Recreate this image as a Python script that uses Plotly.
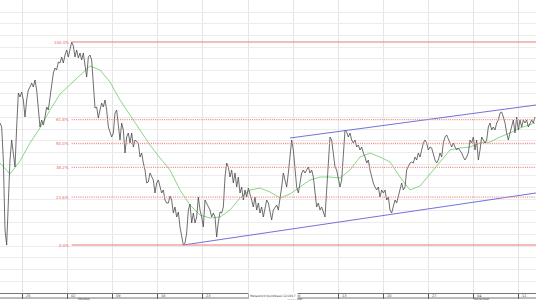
import plotly.graph_objects as go

# ---------------- data ----------------
price = [177,173,140,70,55,107,140,160,147,133,173,207,203,208,200,183,200,210,213,217,
         213,220,210,187,173,180,175,183,193,190,203,213,227,232,230,238,237,243,237,245,
         250,243,250,258,254,243,250,242,247,240,247,233,223,243,245,240,220,192,193,182,
         190,197,193,200,190,173,168,163,167,187,190,173,160,177,170,147,163,167,157,167,
         153,160,158,157,143,147,137,130,117,118,127,123,120,107,117,120,113,107,110,100,
         97,97,104,100,87,93,83,88,73,63,55,57,67,90,96,77,87,77,83,103,
         90,83,73,100,97,93,90,83,87,83,63,78,88,87,93,123,137,133,123,130,
         117,127,113,123,107,113,100,110,103,112,107,100,93,103,90,97,87,93,83,90,
         100,97,87,80,90,93,95,90,100,113,127,120,113,127,143,160,150,127,113,107,
         117,127,130,127,130,133,127,130,123,107,93,97,90,93,87,83,110,143,163,160,
         143,133,130,123,113,120,150,170,168,163,167,160,157,160,153,155,150,153,147,143,
         137,140,130,123,117,113,110,113,103,110,107,110,100,103,90,87,93,100,97,103,
         110,117,110,113,130,133,137,138,137,143,140,147,143,150,157,160,157,150,153,152,
         145,140,137,140,147,143,157,163,165,160,157,153,157,153,150,152,150,147,143,140,
         143,147,160,157,163,150,160,140,150,163,160,157,160,173,177,170,173,170,177,180,
         187,188,183,177,167,160,167,173,180,167,183,170,180,173,180,177,180,173,177,180,
         177,183]
bars = list(range(len(price)))

ma_bar = [0,6,12,18,24,30,36,42,48,54,60,66,72,78,84,90,96,102,108,114,120,126,132,138,
          144,150,156,162,168,174,180,186,192,198,204,210,216,222,228,234,240,246,252,258,
          264,270,276,282,288,294,300,306,312,318,321]
ma = [137,126,139,157,172,190,206,215,225,234,230,218,200,185,170,155,142,130,110,95,85,82,83,90,
      102,110,112,108,102,106,113,120,123,123,122,130,143,147,143,138,123,110,114,126,
      138,150,152,153,157,158,163,167,172,175,177]

fib_high, fib_high_bar = 258, 43
fib_low = 55
fib_ratios = [1.0, 0.618, 0.5, 0.382, 0.236, 0.0]
fib_labels = ["100.0%", "61.8%", "50.0%", "38.2%", "23.6%", "0.0%"]

lower_channel_bar = [110, 321.6]
lower_channel = [55, 107]
upper_channel_bar = [174, 321.6]
upper_channel = [162, 195]

week_labels = ["25", "02", "09", "16", "23", "", "06", "13", "20", "27", "04", "11"]
month_labels = ["Oktober", "November", "December"]
month_bar = [46.2, 171.6, 283.8]
source_text = "Metastock Quickbase 12/2017"

# ---------------- figure ----------------
X_MAX = 321.6
first_tick, week_bars = 13.5, 27.06
tickvals = [first_tick + i * week_bars for i in range(len(week_labels))]

fig = go.Figure()

red = "#e96a6a"
shapes = []
annotations = []
for r, lab in zip(fib_ratios, fib_labels):
    lvl = fib_low + r * (fib_high - fib_low)
    solid = r in (0.0, 1.0)
    if solid:
        ln = dict(color="#ea7878", width=1, dash="solid")
    else:
        ln = dict(color="#f08686", width=1.3, dash="1px,1.2px")
    shapes.append(dict(type="line", xref="x", yref="y", x0=fib_high_bar, x1=X_MAX,
                       y0=lvl, y1=lvl, line=ln))
    annotations.append(dict(x=fib_high_bar - 0.6, y=lvl, xref="x", yref="y", text=lab,
                            showarrow=False, xanchor="right", yanchor="middle",
                            font=dict(size=4, color=red, family="DejaVu Sans")))

fig.add_trace(go.Scatter(x=ma_bar, y=ma, mode="lines",
                         line=dict(color="#7fcf7a", width=0.9), hoverinfo="skip"))
fig.add_trace(go.Scatter(x=bars, y=price, mode="lines",
                         line=dict(color="#4a4a4a", width=0.8), hoverinfo="skip"))
fig.add_trace(go.Scatter(x=lower_channel_bar, y=lower_channel, mode="lines",
                         line=dict(color="#6560d8", width=0.9), hoverinfo="skip"))
fig.add_trace(go.Scatter(x=upper_channel_bar, y=upper_channel, mode="lines",
                         line=dict(color="#6560d8", width=0.9), hoverinfo="skip"))

# bottom date band
band = 5 / 293
shapes.append(dict(type="line", xref="paper", yref="paper", x0=0, x1=1, y0=-band, y1=-band,
                   line=dict(color="#777", width=1)))
for tv, lab in zip(tickvals, week_labels):
    if lab:
        annotations.append(dict(x=tv + 0.8, y=-band / 2, xref="x", yref="paper", text=lab,
                                showarrow=False, xanchor="left", yanchor="middle",
                                font=dict(size=3.5, color="#444", family="DejaVu Sans")))
for mb, lab in zip(month_bar, month_labels):
    annotations.append(dict(x=mb, y=-8.9 / 293, xref="x", yref="paper", text=lab,
                            showarrow=False, xanchor="left", yanchor="bottom",
                            borderpad=0,
                            font=dict(size=3, color="#444", family="DejaVu Sans")))
annotations.append(dict(x=tickvals[5] + 0.2, y=-band / 2, xref="x", yref="paper",
                        text=source_text, showarrow=False,
                        xanchor="left", yanchor="middle", bgcolor="white",
                        font=dict(size=3, color="#444", family="DejaVu Sans")))

fig.update_layout(
    width=536, height=302, margin=dict(l=0, r=0, t=0, b=9),
    paper_bgcolor="white", plot_bgcolor="white", showlegend=False,
    shapes=shapes, annotations=annotations,
    xaxis=dict(range=[0, X_MAX], tickvals=tickvals, showticklabels=False,
               showgrid=True, gridcolor="#e4e4e4", gridwidth=1, zeroline=False,
               showline=True, linecolor="#777", linewidth=1,
               ticks="outside", ticklen=5, tickcolor="#555", tickwidth=1),
    yaxis=dict(range=[7, 300], showticklabels=False, showgrid=True, gridcolor="#ececec",
               tick0=288, dtick=11.7, zeroline=False, showline=False, ticks=""),
)

fig.write_html("out.html")
